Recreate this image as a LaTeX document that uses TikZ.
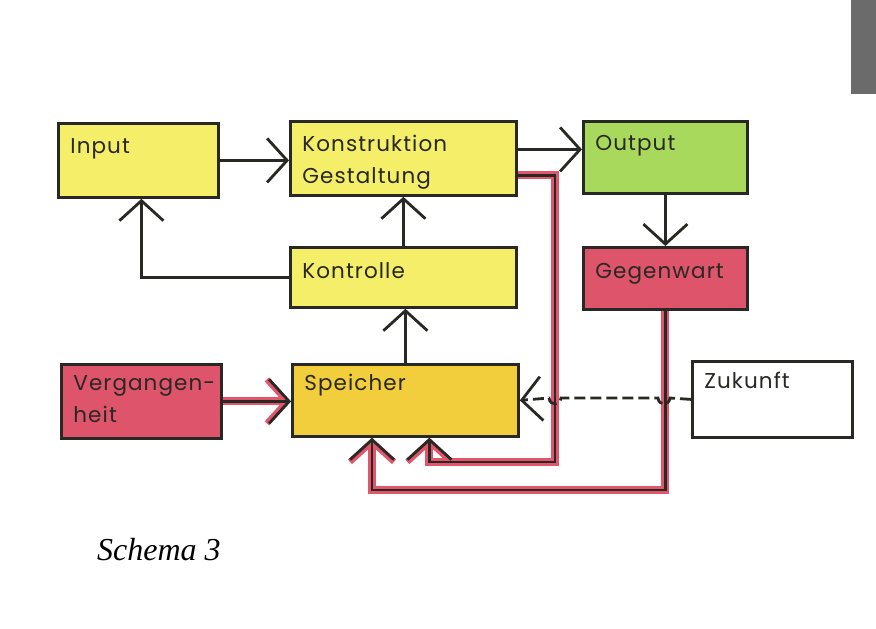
\documentclass[tikz,border=0pt]{standalone}
\usepackage{fontspec}
\setmainfont{Liberation Serif}
\newfontfamily\labfont[LetterSpace=5]{Poppins}
\usetikzlibrary{arrows.meta}
\definecolor{ylw}{RGB}{245,238,105}
\definecolor{ylwdark}{RGB}{242,205,60}
\definecolor{grn}{RGB}{168,216,92}
\definecolor{rdbox}{RGB}{222,84,106}
\definecolor{rdline}{RGB}{226,86,108}
\definecolor{ink}{RGB}{40,40,36}
\newcommand\bt[4]{\parbox[c][#2][t]{#1}{\raggedright\leftskip=12pt\rule{0pt}{#3}#4}}
\tikzset{
  blk/.style={draw=ink,line width=2.8pt,inner sep=0pt,anchor=north west,
    font=\labfont\fontsize{21.5pt}{32pt}\selectfont,text=ink},
  conn/.style={draw=ink,line width=2.8pt},
  tipa/.style={-{Straight Barb[length=20pt,width=44pt,line width=2.8pt]}},
  redunder/.style={draw=rdline,line width=8pt},
  redtip/.style={-{Straight Barb[length=20pt,width=44pt,line width=6pt]}},
}
\begin{document}
\begin{tikzpicture}[x=1pt,y=-1pt]
\useasboundingbox (0,0) rectangle (876,629);
\fill[white] (0,0) rectangle (876,629);
% scan edge patch
\fill[black!58] (851,0) rectangle (876,94);
% boxes
\node[blk,fill=ylw] (inp) at (57,122) {\bt{160pt}{74pt}{30pt}{Input}};
\node[blk,fill=ylw] (kon) at (289,120) {\bt{226pt}{74pt}{30pt}{Konstruktion\\Gestaltung}};
\node[blk,fill=grn] (out) at (582,120) {\bt{164pt}{72pt}{29pt}{Output}};
\node[blk,fill=ylw] (kto) at (289,246) {\bt{226pt}{60pt}{31pt}{Kontrolle}};
\node[blk,fill=rdbox] (geg) at (582,246) {\bt{164pt}{62pt}{31pt}{Gegenwart}};
\node[blk,fill=rdbox] (ver) at (60,363) {\bt{160pt}{74pt}{26pt}{Vergangen-\\heit}};
\node[blk,fill=ylwdark] (spe) at (291,363) {\bt{226pt}{72pt}{26pt}{Speicher}};
\node[blk,fill=white] (zuk) at (691,360) {\bt{160pt}{76pt}{27pt}{Zukunft}};
% bend points
\coordinate (b1) at (555,462);
\coordinate (b2) at (372,490);
\coordinate (h1) at (664,398);
\coordinate (h2) at (555,398);
% red highlighted routes
\draw[redunder,redtip] ([yshift=-17pt]kon.east) -| (b1) -| ([xshift=24pt]spe.south);
\draw[redunder,redtip] (geg.south) |- (b2) -- (b2 |- spe.south);
\draw[redunder,redtip] (ver.east) -- (ver.east -| spe.west);
\draw[conn,tipa] ([yshift=-17pt]kon.east) -| (b1) -| ([xshift=24pt]spe.south);
\draw[conn,tipa] (geg.south) |- (b2) -- (b2 |- spe.south);
\draw[conn,tipa] (ver.east) -- (ver.east -| spe.west);
% black connectors
\draw[conn,tipa] (inp.east) -- (inp.east -| kon.west);
\draw[conn,tipa] ([yshift=9pt]kon.east) -- ([yshift=9pt]kon.east -| out.west);
\draw[conn,tipa] (out.south) -- (geg.north);
\draw[conn,tipa] (kto.north) -- (kon.south);
\draw[conn,tipa] (spe.north) -- (spe.north |- kto.south);
\draw[conn,tipa] (kto.west) -| ([xshift=3pt]inp.south);
% dashed from Zukunft with hops
\draw[conn,tipa,dash pattern=on 11pt off 5pt] (zuk.west) -- ([xshift=6pt]h1)
  .. controls ([xshift=5pt,yshift=-8pt]h1) and ([xshift=-5pt,yshift=-8pt]h1) .. ([xshift=-6pt]h1)
  -- ([xshift=6pt]h2)
  .. controls ([xshift=5pt,yshift=-8pt]h2) and ([xshift=-5pt,yshift=-8pt]h2) .. ([xshift=-6pt]h2)
  -- (spe.east);
% caption
\node[anchor=base west,inner sep=0pt,font=\fontsize{32pt}{38pt}\selectfont\itshape] (cap) at (97,560) {Schema 3};
\end{tikzpicture}
\end{document}
